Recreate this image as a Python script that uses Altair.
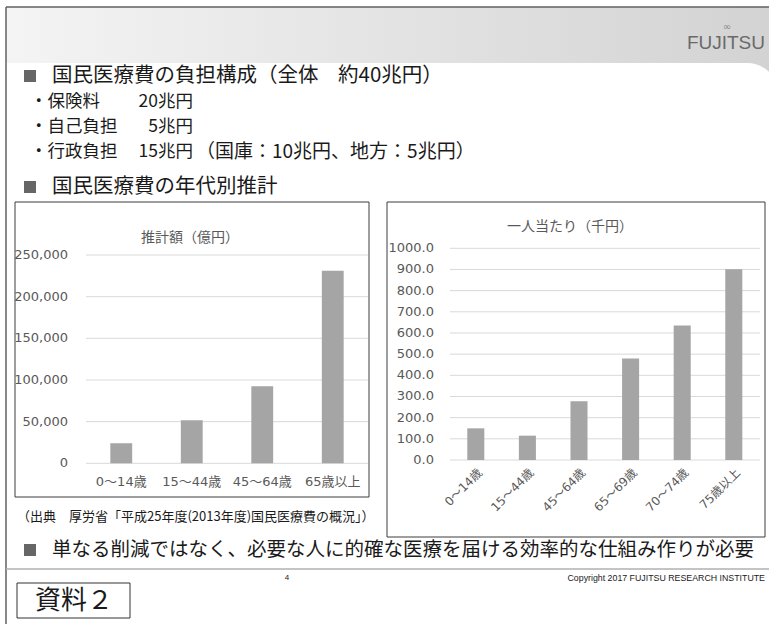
import altair as alt
import pandas as pd

# ---- data ----
ages_total = ["0～14歳", "15～44歳", "45～64歳", "65歳以上"]
total_values = [24000, 51800, 92400, 231100]
total_ticks = [0, 50000, 100000, 150000, 200000, 250000]

ages_capita = ["0～14歳", "15～44歳", "45～64歳", "65～69歳", "70～74歳", "75歳以上"]
capita_values = [149.5, 115.0, 277.0, 480.0, 635.0, 901.0]
capita_ticks = [0, 100, 200, 300, 400, 500, 600, 700, 800, 900, 1000]

JP = "Noto Sans CJK JP"
NUM = "DejaVu Sans, Noto Sans CJK JP"
TXT = "#1a1a1a"
AX = "#595959"
BAR = "#a5a5a5"
GRID = "#d9d9d9"

one = pd.DataFrame({"a": [0]})


def txt(text, x, y, size, align="left", color=TXT, font=JP, weight="normal"):
    return alt.Chart(one).mark_text(
        text=text, align=align, baseline="middle", fontSize=size,
        font=font, color=color, fontWeight=weight
    ).encode(x=alt.value(x), y=alt.value(y))


def box(x0, x1, y0, y1, fill="white", stroke=None, sw=1, **kw):
    props = dict(fill=fill, **kw)
    if stroke:
        props.update(stroke=stroke, strokeWidth=sw)
    return alt.Chart(one).mark_rect(**props).encode(
        x=alt.value(x0), x2=alt.value(x1), y=alt.value(y0), y2=alt.value(y1))


def line(x0, x1, y0, y1, color, sw=1):
    return alt.Chart(one).mark_rule(color=color, strokeWidth=sw).encode(
        x=alt.value(x0), x2=alt.value(x1), y=alt.value(y0), y2=alt.value(y1))


layers = []

# header band
grad = alt.Gradient(gradient="linear",
                    stops=[alt.GradientStop(color="#f4f4f4", offset=0),
                           alt.GradientStop(color="#d3d3d3", offset=1)],
                    x1=0, x2=1, y1=0, y2=0)
layers.append(box(6, 769, 7, 90, fill=grad))
layers.append(box(6, 779, 63, 624, fill="white", cornerRadiusTopRight=32))
layers.append(line(6, 769, 7, 7, "#606060", 1.5))
layers.append(line(6, 6, 7, 624, "#606060", 1.5))

# logo
layers.append(txt("FUJITSU", 765, 43, 19, align="right", color="#6a6a6a",
                  font="Liberation Sans Narrow, Liberation Sans"))
layers.append(txt("∞", 727, 27, 10, align="center", color="#888888", font="DejaVu Sans"))

# headings
layers.append(box(24, 36, 70, 82, fill="#666666"))
layers.append(txt("国民医療費の負担構成（全体", 52, 76, 20.5))
layers.append(txt("約40兆円）", 338, 76, 20.5))
layers.append(txt("・保険料", 30, 102, 17.5))
layers.append(txt("20兆円", 193, 102, 17.5, align="right"))
layers.append(txt("・自己負担", 30, 127, 17.5))
layers.append(txt("5兆円", 193, 127, 17.5, align="right"))
layers.append(txt("・行政負担", 30, 152, 17.5))
layers.append(txt("15兆円", 193, 152, 17.5, align="right"))
layers.append(txt("（国庫：10兆円、地方：5兆円）", 196, 152, 19))
layers.append(box(24, 36, 181, 193, fill="#666666"))
layers.append(txt("国民医療費の年代別推計", 52, 187, 20.5))

# ---- left chart ----
layers.append(box(15, 369, 202, 497, fill="white", stroke="#3c3c3c", sw=1))
layers.append(txt("推計額（億円）", 190, 238, 14, align="center", color=AX))
yL = alt.Scale(domain=[0, 250000], range=[463.3, 255], nice=False, zero=True)
xL = alt.Scale(domain=ages_total, range=[86, 368], paddingInner=0.69, paddingOuter=0.345)
dfLt = pd.DataFrame({"t": total_ticks})
dfL = pd.DataFrame({"age": ages_total, "v": total_values})
layers.append(alt.Chart(dfLt).mark_rule(color=GRID, strokeWidth=1).encode(
    y=alt.Y("t:Q", scale=yL, axis=None), x=alt.value(86), x2=alt.value(368)))
layers.append(alt.Chart(dfLt).mark_text(align="right", baseline="middle", fontSize=13,
                                        font=NUM, color=AX).encode(
    y=alt.Y("t:Q", scale=yL, axis=None), x=alt.value(68),
    text=alt.Text("t:Q", format=",")))
layers.append(alt.Chart(dfL).mark_bar(color=BAR).encode(
    x=alt.X("age:N", scale=xL, sort=ages_total, axis=None),
    y=alt.Y("v:Q", scale=yL, axis=None)))
layers.append(alt.Chart(dfL).mark_text(align="center", baseline="middle", fontSize=13,
                                       font=NUM, color=AX).encode(
    x=alt.X("age:N", scale=xL, sort=ages_total, axis=None),
    y=alt.value(482), text="age:N"))
layers.append(txt("（出典　厚労省「平成25年度(2013年度)国民医療費の概況」）", 17, 517, 13))

# ---- right chart ----
layers.append(box(387, 765, 202, 537, fill="white", stroke="#3c3c3c", sw=1))
layers.append(txt("一人当たり（千円）", 570, 227, 14, align="center", color=AX))
yR = alt.Scale(domain=[0, 1000], range=[460, 248.3], nice=False, zero=True)
xR = alt.Scale(domain=ages_capita, range=[450, 759.6], paddingInner=0.67, paddingOuter=0.335)
dfRt = pd.DataFrame({"t": capita_ticks})
dfR = pd.DataFrame({"age": ages_capita, "v": capita_values})
layers.append(alt.Chart(dfRt).mark_rule(color=GRID, strokeWidth=1).encode(
    y=alt.Y("t:Q", scale=yR, axis=None), x=alt.value(450), x2=alt.value(760)))
layers.append(alt.Chart(dfRt).mark_text(align="right", baseline="middle", fontSize=13,
                                        font=NUM, color=AX).encode(
    y=alt.Y("t:Q", scale=yR, axis=None), x=alt.value(434),
    text=alt.Text("t:Q", format=".1f")))
layers.append(alt.Chart(dfR).mark_bar(color=BAR).encode(
    x=alt.X("age:N", scale=xR, sort=ages_capita, axis=None),
    y=alt.Y("v:Q", scale=yR, axis=None)))
layers.append(alt.Chart(dfR).mark_text(align="right", baseline="middle", fontSize=12,
                                       font=NUM, color=AX, angle=315, dx=6).encode(
    x=alt.X("age:N", scale=xR, sort=ages_capita, axis=None),
    y=alt.value(475), text="age:N"))

# ---- bottom ----
layers.append(box(24, 36, 544, 556, fill="#666666"))
layers.append(txt("単なる削減ではなく、必要な人に的確な医療を届ける効率的な仕組み作りが必要", 52, 550, 19.5))
layers.append(line(6, 769, 569, 569, "#b0b0b0", 1.5))
layers.append(txt("4", 287, 578, 8, align="center", font="Liberation Sans"))
layers.append(txt("Copyright 2017 FUJITSU RESEARCH  INSTITUTE", 765, 578, 8.8, align="right",
                  font="Liberation Sans Narrow, Liberation Sans"))
layers.append(box(17, 130, 583, 618, fill="white", stroke="#333333", sw=1))
layers.append(txt("資料２", 74, 601, 26, align="center"))

chart = alt.layer(*layers).resolve_scale(x="independent", y="independent").properties(
    width=769, height=624, autosize="none", padding=0, background="white"
).configure_view(stroke=None)

chart.save("out.html", embed_options={"renderer": "svg", "actions": False})
